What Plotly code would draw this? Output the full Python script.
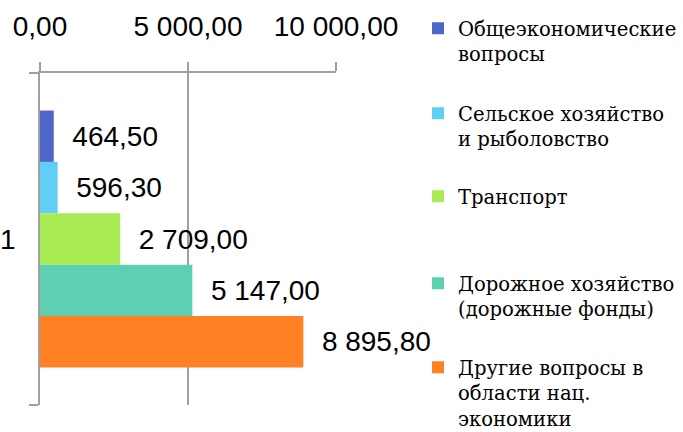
import plotly.graph_objects as go

categories = ["1"]
series_names = [
    "Общеэкономические<br>вопросы",
    "Сельское хозяйство<br>и рыболовство",
    "Транспорт",
    "Дорожное хозяйство<br>(дорожные фонды)",
    "Другие вопросы в<br>области нац.<br>экономики",
]
series_values = [[464.50], [596.30], [2709.00], [5147.00], [8895.80]]
colors = ["#4F66C9", "#60CEF5", "#A8EB52", "#5ED0B2", "#FF8124"]
tick_values = [0, 5000, 10000]

# page geometry (pixels)
W, H = 683, 432
ml, mr, mt, mb = 40, 347, 73, 27
plot_h = H - mt - mb
plot_w = W - ml - mr
legend_first_line_px = [28, 113, 196, 283, 367]
legend_left_px = 418


def fmt(v):
    return f"{v:,.2f}".replace(",", " ").replace(".", ",")


fig = go.Figure()
for i, (name, vals, col) in enumerate(zip(series_names, series_values, colors)):
    lg = "legend" if i == 0 else f"legend{i + 1}"
    fig.add_trace(go.Bar(
        y=categories, x=vals, name=name, orientation="h",
        marker=dict(color=col, line=dict(width=0)),
        text=["\u00a0\u00a0" + fmt(v) for v in vals],
        textposition="outside", cliponaxis=False, constraintext="none",
        textfont=dict(family="Liberation Sans", size=28, color="#000000"),
        legend=lg,
    ))

layout_legends = {}
for i, py in enumerate(legend_first_line_px):
    key = "legend" if i == 0 else f"legend{i + 1}"
    layout_legends[key] = dict(
        x=(legend_left_px - ml) / plot_w, xanchor="left",
        y=(H - mb - (py - 19)) / plot_h, yanchor="top",
        valign="top", bgcolor="rgba(0,0,0,0)",
        font=dict(family="DejaVu Serif, Liberation Serif, serif", size=19.6, color="#000000"),
        itemclick=False,
    )

fig.update_layout(
    width=W, height=H,
    margin=dict(l=ml, r=mr, t=mt, b=mb, pad=0, autoexpand=False),
    paper_bgcolor="white", plot_bgcolor="white",
    barmode="group", bargap=0.226, bargroupgap=0,
    separators=", ",
    showlegend=True,
    xaxis=dict(
        side="top", range=[0, 10000], tickvals=tick_values,
        tickformat=",.2f", automargin=False,
        showgrid=True, gridcolor="#A0A0A0", gridwidth=1.5,
        zeroline=False, showline=True, linecolor="#A0A0A0", linewidth=1.5,
        ticks="outside", ticklen=9, tickcolor="#A0A0A0", tickwidth=1.5,
        tickfont=dict(family="Liberation Sans", size=28, color="#000000"),
        ticklabelstandoff=15,
    ),
    yaxis=dict(
        type="category", autorange="reversed", automargin=False,
        showgrid=False, zeroline=False,
        showline=True, linecolor="#A0A0A0", linewidth=1.5,
        ticks="outside", ticklen=9, tickcolor="#A0A0A0", tickwidth=1.5,
        tickson="boundaries",
        tickfont=dict(family="Liberation Sans", size=28, color="#000000"),
        ticklabelstandoff=17,
    ),
    **layout_legends,
)

fig.write_html("out.html", config={"displayModeBar": False},
               post_script="document.body.style.margin='0';")
